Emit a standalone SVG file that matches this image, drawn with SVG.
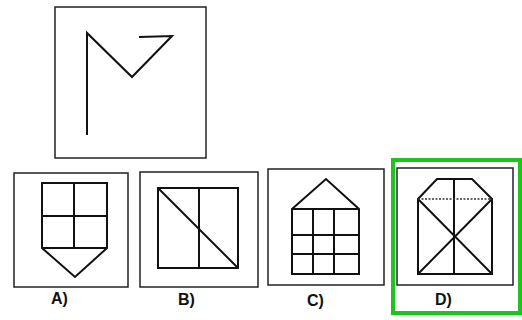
<svg xmlns="http://www.w3.org/2000/svg" width="522" height="320" viewBox="0 0 522 320">
<style>
.box{fill:none;stroke:#222;stroke-width:1.5}
.fig{fill:none;stroke:#111;stroke-width:2;stroke-linejoin:miter}
.thin{fill:none;stroke:#333;stroke-width:1.5}
.lbl{font-family:"Liberation Sans",Arial,sans-serif;font-weight:bold;font-size:16px;fill:#111}
</style>
<rect width="522" height="320" fill="#fff"/>
<g id="question">
<rect class="box" x="55" y="7" width="151" height="151"/>
<polyline class="fig" points="87,135 87,33 132,77 172,36 139,37" stroke-width="2.5"/>
</g>
<g id="optionA">
<rect class="box" x="14" y="173" width="114" height="114"/>
<path class="fig" d="M42,183 H107 V248 L75,277 L42,248 Z M74,183 V248 M42,216 H107 M42,248 H107"/>
<text class="lbl" x="51" y="304">A)</text>
</g>
<g id="optionB">
<rect class="box" x="140" y="172" width="118" height="115"/>
<path class="fig" d="M158,188 H238 V268 H158 Z M199,188 V268 M158,188 L238,268"/>
<text class="lbl" x="178" y="305">B)</text>
</g>
<g id="optionC">
<rect class="box" x="268" y="169" width="116" height="116"/>
<path class="fig" d="M292,209 L326,179 L359,209 V274 H292 Z M292,209 H359 M313,209 V274 M334,209 V274 M292,235 H359"/>
<path class="fig" d="M292,254 H359" stroke-width="3"/>
<text class="lbl" x="307" y="306">C)</text>
</g>
<g id="optionD">
<rect class="box" x="397" y="168" width="116" height="117"/>
<path class="fig" d="M437,179 H472 L492,199 V274 H418 V199 Z M454,179 V274 M418,199 L492,274 M492,199 L418,274"/>
<path class="thin" d="M418,199 H492" stroke-dasharray="2,1.5" stroke-width="1"/>
<text class="lbl" x="435" y="305">D)</text>
<rect x="393" y="160" width="127" height="153" fill="none" stroke="#1ec31e" stroke-width="4"/>
</g>
</svg>
